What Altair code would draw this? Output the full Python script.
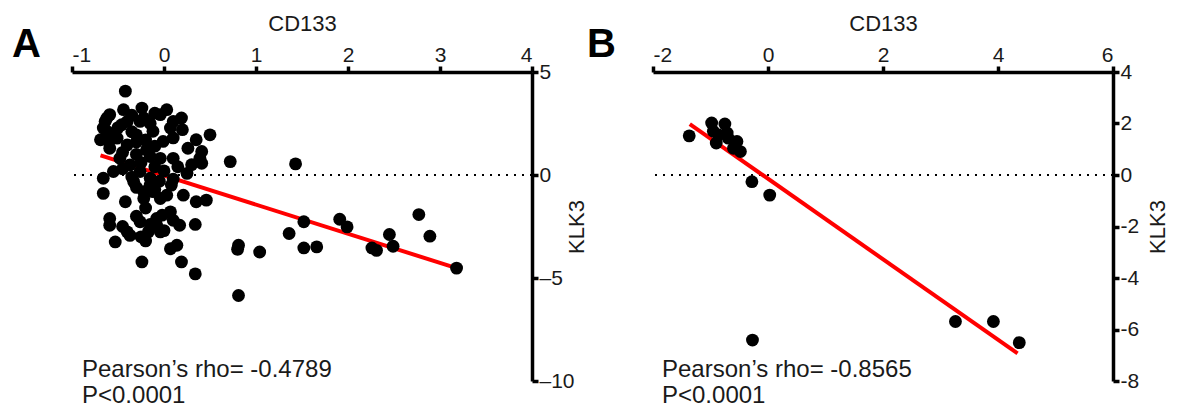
import altair as alt
import pandas as pd

FONT = "Liberation Sans"

# ---------------- Panel A data ----------------
a_x = [-0.42, -0.64, -0.59, -0.44, -0.24, 0.03, 0.19, -0.62, -0.40, -0.22, -0.04, 0.07,
       -0.69, -0.51, -0.30, -0.12, -0.01, -0.59, -0.40, -0.19, -0.04, -0.48, -0.37, -0.66,
       -0.55, -0.26, -0.15, -0.33, -0.66, -0.42, -0.22, -0.15, 0.10, 0.26, 0.35, 0.50,
       0.39, 0.25, 0.08, 0.21, -0.04, 0.35, 0.46, -0.59, -0.40, -0.53, -0.26, -0.08,
       0.07, 0.17, 0.34, 0.07, 0.14, -0.24, 0.19, 0.34, 0.72, -0.62, -0.66, -0.46,
       -0.26, 0.41, 0.41, -0.22, -0.12, 0.03, -0.59, -0.37, -0.17, -0.08, -0.02, -0.04,
       1.43, 0.81, 0.80, 1.04, 0.81, 1.36, 1.52, 1.52, 1.66, 1.91, 1.99, 2.26,
       2.31, 2.45, 2.49, 2.77, 2.89, 3.18,
       -0.50, -0.35, -0.15, -0.30, -0.20, -0.10, -0.45, -0.30, -0.15, -0.25, -0.10, 0.00,
       -0.45, -0.35, -0.05, -0.30, -0.10, 0.10, 0.15, 0.20, 0.10, 0.30, -0.55, -0.35,
       -0.10, 0.10, -0.60, -0.20, -0.30, -0.15, -0.45, -0.25, 0.00, 0.10, -0.20]
a_y = [4.07, 2.60, 2.93, 3.17, 3.25, 3.17, 2.77, 2.12, 2.60, 2.77, 2.93, 2.28,
       1.71, 1.79, 1.95, 2.12, 1.63, 1.30, 1.46, 1.22, 0.81, 0.81, 0.49, -0.16,
       0.17, 0.17, -0.16, -0.32, -0.89, -1.30, -0.81, -0.49, 0.81, 1.30, 1.71, 1.95,
       0.81, 0.08, -0.49, -0.98, -1.14, -1.30, -1.22, -2.44, -2.76, -3.25, -2.27, -2.11,
       -1.79, -2.44, -2.40, -3.58, -3.41, -4.22, -4.22, -4.80, 0.65, 2.77, 2.28, 2.44,
       2.60, 1.14, 0.57, -1.14, -0.81, -0.98, -2.11, -2.93, -2.76, -2.44, -1.95, -2.76,
       0.54, -3.41, -3.61, -3.74, -5.85, -2.84, -2.27, -3.54, -3.49, -2.15, -2.52, -3.54,
       -3.66, -2.89, -3.46, -1.92, -2.97, -4.52,
       2.3, 2.1, 2.5, 1.6, 1.7, 1.4, 1.1, 1.0, 0.9, 0.6, 0.4, 0.2,
       0.3, -0.1, -0.3, -0.6, -0.7, -0.2, 0.4, 2.2, 1.8, 0.5, 2.0, 2.9,
       3.0, 2.6, 1.6, -1.6, -2.0, -2.4, -2.5, -3.0, -2.7, -2.2, -3.2]
a_fit_x = [-0.69, 3.18]
a_fit_y = [0.95, -4.52]
a_xticks = [-1, 0, 1, 2, 3, 4]
a_yticks = [-10, -5, 0, 5]
a_rho = "Pearson’s rho= -0.4789"

# ---------------- Panel B data ----------------
b_x = [-1.37, -0.98, -0.75, -0.95, -0.86, -0.71, -0.90, -0.69, -0.54, -0.48, -0.60,
       -0.28, 0.03, -0.27, 3.26, 3.92, 4.37]
b_y = [1.52, 2.02, 1.98, 1.70, 1.56, 1.63, 1.24, 1.43, 1.30, 0.91, 1.04,
       -0.26, -0.78, -6.41, -5.69, -5.69, -6.51]
b_fit_x = [-1.36, 4.34]
b_fit_y = [1.98, -6.93]
b_xticks = [-2, 0, 2, 4, 6]
b_yticks = [-8, -6, -4, -2, 0, 2, 4]
b_rho = "Pearson’s rho= -0.8565"

p_text = "P<0.0001"
zero_line = [0]

W, H = 460, 309
HYPHEN = "'' + datum.value"
ENDASH = "datum.value < 0 ? '–' + abs(datum.value) : '' + datum.value"


def panel(xs, ys, fx, fy, xdom, xticks, ydom, yticks, letter, rho, letter_dx, text_dx, ylabel_expr):
    pts = pd.DataFrame({"x": xs, "y": ys})
    fit = pd.DataFrame({"x": fx, "y": fy})
    zero = pd.DataFrame({"y": zero_line})
    one = pd.DataFrame({"k": [0]})
    xscale = alt.Scale(domain=xdom, nice=False, zero=False)
    yscale = alt.Scale(domain=ydom, nice=False, zero=False)
    xaxis = alt.Axis(orient="top", values=xticks, title="CD133", labelExpr=HYPHEN)
    yaxis = alt.Axis(orient="right", values=yticks, title="KLK3", titleAngle=270,
                     titleX=51, titleY=H / 2, titleAlign="center", titleBaseline="alphabetic",
                     labelExpr=ylabel_expr)

    zl = alt.Chart(zero).mark_rule(color="black", strokeDash=[2, 6], strokeWidth=2).encode(
        y=alt.Y("y:Q", scale=yscale, axis=yaxis))
    line = alt.Chart(fit).mark_line(color="#ff0000", strokeWidth=4).encode(
        x=alt.X("x:Q", scale=xscale, axis=xaxis),
        y=alt.Y("y:Q", scale=yscale, axis=yaxis))
    dots = alt.Chart(pts).mark_circle(size=165, color="black", opacity=1).encode(
        x=alt.X("x:Q", scale=xscale, axis=xaxis),
        y=alt.Y("y:Q", scale=yscale, axis=yaxis))
    let = alt.Chart(one).mark_text(font=FONT, fontSize=40, fontWeight="bold", align="left",
                                   baseline="alphabetic", color="black").encode(
        x=alt.value(letter_dx), y=alt.value(-15), text=alt.value(letter))
    t1 = alt.Chart(one).mark_text(font=FONT, fontSize=24, align="left",
                                  baseline="alphabetic", color="#1a1a1a").encode(
        x=alt.value(text_dx), y=alt.value(305), text=alt.value(rho))
    t2 = alt.Chart(one).mark_text(font=FONT, fontSize=24, align="left",
                                  baseline="alphabetic", color="#1a1a1a").encode(
        x=alt.value(text_dx), y=alt.value(331), text=alt.value(p_text))
    return alt.layer(zl, line, dots, let, t1, t2).properties(width=W, height=H)


A = panel(a_x, a_y, a_fit_x, a_fit_y, [-1, 4], a_xticks, [-10, 5], a_yticks, "A", a_rho, -60, 10, ENDASH)
B = panel(b_x, b_y, b_fit_x, b_fit_y, [-2, 6], b_xticks, [-8, 4], b_yticks, "B", b_rho, -66, 9, HYPHEN)

chart = alt.hconcat(A, B, spacing=0).properties(
    padding={"left": 4, "top": 4, "right": 0, "bottom": 0}
).configure_view(stroke=None).configure_axis(
    domainColor="black", domainWidth=3.5, tickColor="black", tickWidth=3.5, tickSize=6,
    labelFont=FONT, labelFontSize=21, labelColor="#1a1a1a", labelPadding=1,
    titleFont=FONT, titleFontSize=22, titleFontWeight="normal", titleColor="#1a1a1a",
    titlePadding=9, grid=False
)

chart.save("out.html", embed_options={"renderer": "svg", "actions": False})
